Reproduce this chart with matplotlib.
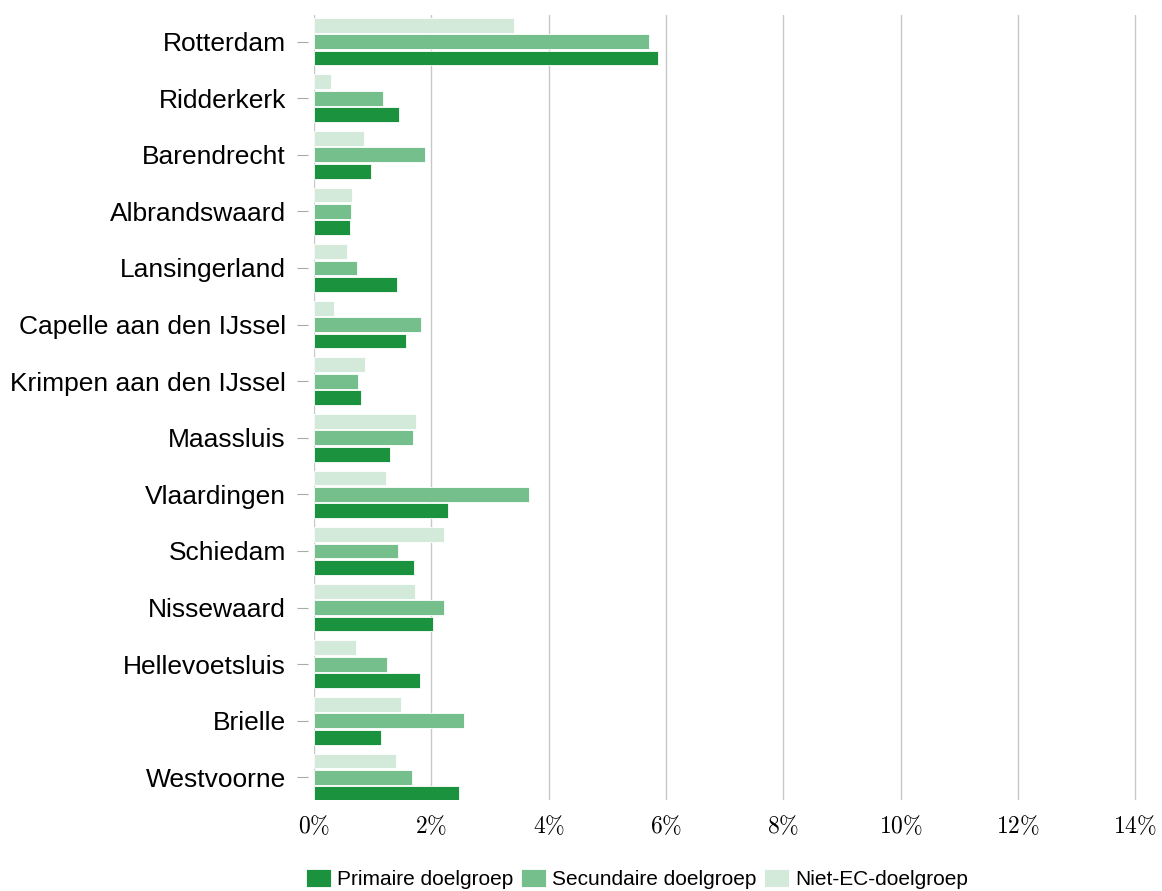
import matplotlib.pyplot as plt
import numpy as np

plt.rcParams["font.family"] = ["Liberation Sans", "DejaVu Sans"]
plt.rcParams["mathtext.fontset"] = "cm"

gemeenten = [
    "Rotterdam", "Ridderkerk", "Barendrecht", "Albrandswaard", "Lansingerland",
    "Capelle aan den IJssel", "Krimpen aan den IJssel", "Maassluis", "Vlaardingen",
    "Schiedam", "Nissewaard", "Hellevoetsluis", "Brielle", "Westvoorne",
]
primair = [5.87, 1.45, 0.97, 0.61, 1.42, 1.57, 0.80, 1.30, 2.29, 1.71, 2.03, 1.81, 1.14, 2.47]
secundair = [5.71, 1.18, 1.89, 0.63, 0.73, 1.82, 0.75, 1.69, 3.67, 1.43, 2.22, 1.24, 2.56, 1.67]
niet_ec = [3.41, 0.29, 0.85, 0.65, 0.56, 0.34, 0.87, 1.74, 1.23, 2.22, 1.72, 0.72, 1.48, 1.40]

series = ["Primaire doelgroep", "Secundaire doelgroep", "Niet-EC-doelgroep"]
colors = ["#1a923e", "#74bf8b", "#d3eadb"]

fig = plt.figure(figsize=(11.62, 8.91), dpi=100)
ax = fig.add_axes([314 / 1162, 91 / 891, 827 / 1162, 785 / 891])

y = np.arange(len(gemeenten))
pitch = 0.29
h = 0.26
offsets = [pitch, 0, -pitch]  # primair onder, niet-EC boven
for vals, off, col, lab in zip([primair, secundair, niet_ec], offsets, colors, series):
    ax.barh(y + off, vals, height=h, color=col, edgecolor="white", linewidth=0.6,
            label=lab, zorder=3)

ax.set_ylim(len(gemeenten) - 1 + 0.4, -0.47)
ax.set_xlim(0, 14.1)
ax.set_yticks(y, gemeenten)
ax.set_xticks(range(0, 15, 2), [rf"${v}\%$" for v in range(0, 15, 2)])

for s in ["top", "right", "bottom"]:
    ax.spines[s].set_visible(False)
ax.spines["left"].set_position(("outward", 4.3))
ax.spines["left"].set_visible(False)
ax.tick_params(axis="y", length=8, color="#aaaaaa", width=0.8, pad=8, labelsize=19)
ax.tick_params(axis="x", length=0, pad=10, labelsize=17)
ax.grid(axis="x", color="#c8c8c8", linewidth=1, zorder=0)

fig.legend(loc="lower center", bbox_to_anchor=(0.548, -0.019), ncol=3, frameon=False,
           fontsize=15, handlelength=1.2, handleheight=1.0, handletextpad=0.3,
           columnspacing=0.35)

fig.savefig("out.png", dpi=100)
